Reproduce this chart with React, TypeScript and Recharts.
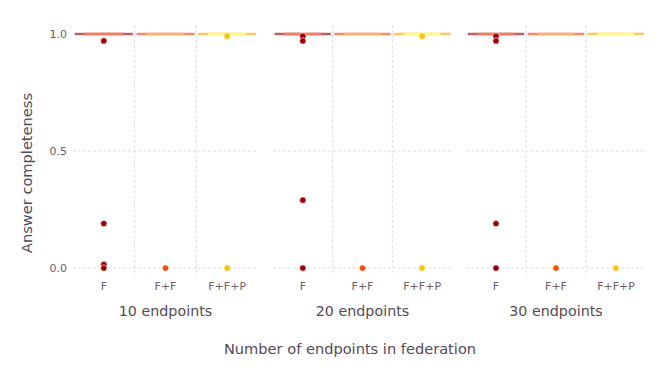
import { ComposedChart, Scatter, XAxis, YAxis, ReferenceLine } from "recharts";

const categories = ["F", "F+F", "F+F+P"];
const facets = ["10 endpoints", "20 endpoints", "30 endpoints"];
const yTicks = [0, 0.5, 1];

// collapsed boxes: median / quartiles all sit at 1.0
const boxMedian = [
  [1, 1, 1],
  [1, 1, 1],
  [1, 1, 1],
];

// outliers per facet, per category
const outliers10 = [[0.97, 0.19, 0.015, 0], [0], [0.99, 0]];
const outliers20 = [[0.99, 0.97, 0.29, 0], [0], [0.99, 0]];
const outliers30 = [[0.99, 0.97, 0.19, 0], [0], [0]];
const outliers = [outliers10, outliers20, outliers30];

const pointColors = ["#a00000", "#fe4a08", "#ffc10a"];
const bandOuter = ["#b96262", "#f6896a", "#fdc75a"];
const bandInner = ["#f77b5e", "#fdaf6f", "#fff982"];

const panels = [
  { left: 0, width: 258, axis: true },
  { left: 273, width: 179, axis: false },
  { left: 466, width: 180, axis: false },
];

const font = "'DejaVu Sans', sans-serif";
const gridColor = "#dcdcea";

function Panel({ f }: { f: number }) {
  const p = panels[f];
  return (
    <div style={{ position: "absolute", left: p.left, top: 0 }}>
      <ComposedChart width={p.width} height={300} margin={{ top: 25, right: 0, left: 0, bottom: 7 }}>
        <XAxis
          type="number"
          dataKey="x"
          domain={[0, 3]}
          ticks={[0.5, 1.5, 2.5]}
          tickFormatter={(v: number) => categories[Math.floor(v)]}
          axisLine={false}
          tickLine={false}
          tickSize={0}
          tickMargin={9}
          height={20}
          tick={{ fill: "#6c606b", fontSize: 11, fontFamily: font }}
        />
        <YAxis
          type="number"
          dataKey="y"
          domain={[-0.021, 1.038]}
          allowDataOverflow
          ticks={yTicks}
          tickFormatter={(v: number) => v.toFixed(1)}
          hide={!p.axis}
          width={p.axis ? 73 : 0}
          axisLine={false}
          tickLine={false}
          tickSize={0}
          tickMargin={6}
          tick={{ fill: "#6c606b", fontSize: 11, fontFamily: font }}
        />
        {yTicks.map((t) => (
          <ReferenceLine key={"h" + t} y={t} stroke={gridColor} strokeDasharray="3 2" />
        ))}
        <ReferenceLine x={1} stroke={gridColor} strokeDasharray="3 2" />
        <ReferenceLine x={2} stroke={gridColor} strokeDasharray="3 2" />
        {categories.map((c, i) => (
          <Scatter
            key={c}
            data={outliers[f][i].map((y) => ({ x: i + 0.5, y }))}
            fill={pointColors[i]}
            shape={(props: any) => (
              <circle cx={props.cx} cy={props.cy} r={3.2} fill={pointColors[i]} stroke="#fff" strokeWidth={0.6} />
            )}
            isAnimationActive={false}
          />
        ))}
        {categories.map((c, i) => (
          <ReferenceLine
            key={"o" + c}
            segment={[
              { x: i + 0.03, y: boxMedian[f][i] },
              { x: i + 0.97, y: boxMedian[f][i] },
            ]}
            stroke={bandOuter[i]}
            strokeWidth={2.5}
          />
        ))}
        {categories.map((c, i) => (
          <ReferenceLine
            key={"i" + c}
            segment={[
              { x: i + 0.19, y: boxMedian[f][i] },
              { x: i + 0.81, y: boxMedian[f][i] },
            ]}
            stroke={bandInner[i]}
            strokeWidth={2.5}
          />
        ))}
      </ComposedChart>
    </div>
  );
}

export default function App() {
  return (
    <div style={{ position: "absolute", left: 0, top: 0, width: 672, height: 384, background: "#fff" }}>
      {facets.map((_, f) => (
        <Panel key={f} f={f} />
      ))}
      <svg width={672} height={384} style={{ position: "absolute", left: 0, top: 0, pointerEvents: "none" }}>
        {facets.map((label, f) => (
          <text
            key={label}
            x={panels[f].left + (panels[f].axis ? 73 : 0) + (panels[f].width - (panels[f].axis ? 73 : 0)) / 2}
            y={316}
            textAnchor="middle"
            fontFamily={font}
            fontSize={14.3}
            fill="#564a55"
          >
            {label}
          </text>
        ))}
        <text x={350} y={354} textAnchor="middle" fontFamily={font} fontSize={14.6} fill="#564a55">
          Number of endpoints in federation
        </text>
        <text
          x={0}
          y={0}
          transform="translate(32,173) rotate(-90)"
          textAnchor="middle"
          fontFamily={font}
          fontSize={14.6}
          fill="#564a55"
        >
          Answer completeness
        </text>
      </svg>
    </div>
  );
}
